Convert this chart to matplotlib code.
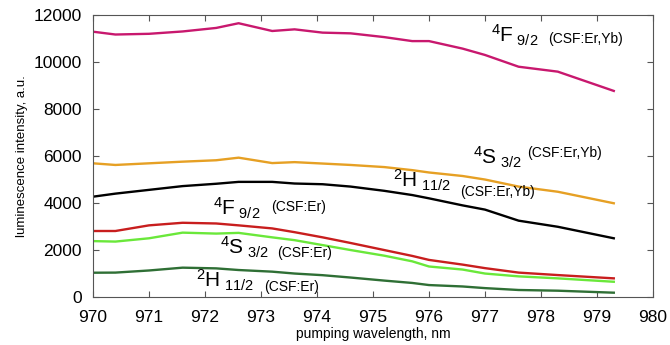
import numpy as np
import matplotlib.pyplot as plt

plt.rcParams['font.family'] = ['Liberation Sans', 'DejaVu Sans']
plt.rcParams['mathtext.fontset'] = 'custom'
plt.rcParams['mathtext.rm'] = 'Liberation Sans'
plt.rcParams['mathtext.it'] = 'Liberation Sans'

# pumping wavelength, nm
wl = [970.0, 970.4, 971.0, 971.6, 972.2, 972.6, 973.2, 973.6, 974.1, 974.6,
      975.2, 975.7, 976.0, 976.6, 977.0, 977.6, 978.3, 979.3]

f92_yb = [11290, 11170, 11200, 11300, 11450, 11650, 11320, 11390, 11250, 11220,
          11060, 10890, 10890, 10570, 10300, 9800, 9590, 8770]
s32_yb = [5690, 5620, 5690, 5760, 5820, 5930, 5700, 5740, 5680, 5620,
          5530, 5400, 5300, 5150, 5000, 4700, 4480, 3990]
h112_yb = [4270, 4400, 4560, 4720, 4820, 4900, 4900, 4830, 4800, 4700,
           4520, 4340, 4200, 3900, 3720, 3250, 2990, 2500]
f92_er = [2810, 2810, 3050, 3160, 3130, 3050, 2920, 2760, 2540, 2300,
          2000, 1750, 1580, 1380, 1230, 1040, 935, 795]
s32_er = [2380, 2360, 2500, 2740, 2700, 2730, 2540, 2420, 2210, 2000,
          1760, 1520, 1300, 1170, 1000, 880, 795, 650]
h112_er = [1035, 1040, 1130, 1250, 1220, 1150, 1080, 1000, 930, 830,
           700, 600, 510, 450, 380, 300, 270, 185]

fig = plt.figure(figsize=(6.7, 3.45), dpi=100)
ax = fig.add_axes([0.1388, 0.139, 0.8358, 0.8175])

lw = 1.7
ax.plot(wl, f92_yb, color='#c8186e', lw=lw)
ax.plot(wl, s32_yb, color='#e6a024', lw=lw)
ax.plot(wl, h112_yb, color='black', lw=lw)
ax.plot(wl, f92_er, color='#c81e1e', lw=lw)
ax.plot(wl, s32_er, color='#6ae83a', lw=lw)
ax.plot(wl, h112_er, color='#2f6f35', lw=lw)

ax.set_xlim(970, 980)
ax.set_ylim(0, 12000)
ax.set_xticks(np.arange(970, 981, 1))
ax.set_yticks(np.arange(0, 12001, 2000))
ax.tick_params(direction='in', top=True, right=True, labelsize=12.5, length=4,
               color='#555555')
ax.tick_params(axis='x', pad=9)
ax.tick_params(axis='y', pad=8)
for s in ax.spines.values():
    s.set_color('#555555')

ax.set_xlabel('pumping wavelength, nm', fontsize=10, labelpad=2)
ax.set_ylabel('luminescence intensity, a.u.', fontsize=9.5, labelpad=4)

# level labels
big = 15
small = 10
labels = [
    (r'$^4\mathrm{F}_{\ 9/2}$', 977.1, 10810, '(CSF:Er,Yb)', 978.12, 11000),
    (r'$^4\mathrm{S}_{\ 3/2}$', 976.78, 5620, '(CSF:Er,Yb)', 977.75, 6130),
    (r'$^2\mathrm{H}_{\ 11/2}$', 975.36, 4680, '(CSF:Er,Yb)', 976.55, 4480),
    (r'$^4\mathrm{F}_{\ 9/2}$', 972.14, 3490, '(CSF:Er)', 973.18, 3830),
    (r'$^4\mathrm{S}_{\ 3/2}$', 972.26, 1790, '(CSF:Er)', 973.28, 1870),
    (r'$^2\mathrm{H}_{\ 11/2}$', 971.84, 425, '(CSF:Er)', 973.05, 440),
]
for lab, lx, ly, host, hx, hy in labels:
    ax.text(lx, ly, lab, fontsize=big, ha='left', va='baseline')
    ax.text(hx, hy, host, fontsize=small, ha='left', va='center')

plt.savefig('out.png', dpi=100)
